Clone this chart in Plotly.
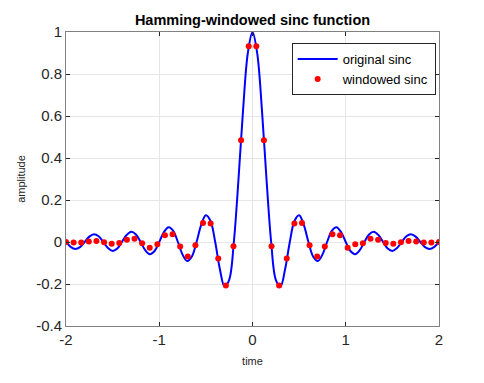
import plotly.graph_objects as go

# continuous (original) sinc curve, sampled every 0.05
t_line = [round(-2 + 0.05 * i, 2) for i in range(81)]
orig_sinc = [0.0, -0.0231, -0.0335, -0.0243, 0.0, 0.0257, 0.0374, 0.0273, 0.0, -0.0290,
             -0.0424, -0.0310, 0.0, 0.0333, 0.0490, 0.0360, 0.0, -0.0391, -0.0579, -0.0429,
             0.0, 0.0474, 0.0707, 0.0530, 0.0, -0.0600, -0.0909, -0.0693, 0.0, 0.0818,
             0.1273, 0.1000, 0.0, -0.1286, -0.2122, -0.1801, 0.0, 0.3001, 0.6366, 0.9003,
             1.0, 0.9003, 0.6366, 0.3001, 0.0, -0.1801, -0.2122, -0.1286, 0.0, 0.1000,
             0.1273, 0.0818, 0.0, -0.0693, -0.0909, -0.0600, 0.0, 0.0530, 0.0707, 0.0474,
             0.0, -0.0429, -0.0579, -0.0391, 0.0, 0.0360, 0.0490, 0.0333, 0.0, -0.0310,
             -0.0424, -0.0290, 0.0, 0.0273, 0.0374, 0.0257, 0.0, -0.0243, -0.0335, -0.0231, 0.0]

# windowed sinc samples (50 points from -2 to 2)
t_samp = [-2.0, -1.9184, -1.8367, -1.7551, -1.6735, -1.5918, -1.5102, -1.4286, -1.3469, -1.2653,
          -1.1837, -1.1020, -1.0204, -0.9388, -0.8571, -0.7755, -0.6939, -0.6122, -0.5306, -0.4490,
          -0.3673, -0.2857, -0.2041, -0.1224, -0.0408, 0.0408, 0.1224, 0.2041, 0.2857, 0.3673,
          0.4490, 0.5306, 0.6122, 0.6939, 0.7755, 0.8571, 0.9388, 1.0204, 1.1020, 1.1837,
          1.2653, 1.3469, 1.4286, 1.5102, 1.5918, 1.6735, 1.7551, 1.8367, 1.9184, 2.0]
win_sinc = [0.0, -0.0027, -0.0018, 0.0027, 0.0048, -0.0009, -0.0087, -0.0051, 0.0106, 0.0152,
            -0.0056, -0.0269, -0.0104, 0.0325, 0.0373, -0.0216, -0.069, -0.016, 0.090, 0.088,
            -0.079, -0.207, -0.020, 0.484, 0.932, 0.932, 0.484, -0.020, -0.207, -0.079,
            0.088, 0.090, -0.016, -0.069, -0.0216, 0.0373, 0.0325, -0.0269, -0.0104, -0.0056,
            0.0152, 0.0106, -0.0051, -0.0087, -0.0009, 0.0048, 0.0027, -0.0018, -0.0027, 0.0]

x_ticks = [-2, -1, 0, 1, 2]
y_ticks = [-0.4, -0.2, 0, 0.2, 0.4, 0.6, 0.8, 1]
y_tick_text = ["-0.4", "-0.2", "0", "0.2", "0.4", "0.6", "0.8", "1"]

FONT = "Arial, Liberation Sans, sans-serif"
AX = "#262626"

fig = go.Figure()
fig.add_trace(go.Scatter(x=t_line, y=orig_sinc, mode="lines", name="original sinc",
                         line=dict(color="#0000ff", width=2, shape="spline", smoothing=1.0)))
fig.add_trace(go.Scatter(x=t_samp, y=win_sinc, mode="markers", name="windowed sinc",
                         marker=dict(color="#ff0000", size=6)))

axis_common = dict(showline=True, linecolor="#808080", linewidth=1, mirror="ticks",
                   ticks="inside", ticklen=4, tickcolor=AX, showgrid=True,
                   gridcolor="#e6e6e6", gridwidth=1, zeroline=False,
                   tickfont=dict(family=FONT, size=15, color=AX))

fig.update_layout(
    width=484, height=383,
    margin=dict(l=56, r=53, t=24, b=65),
    paper_bgcolor="white", plot_bgcolor="white",
    title=dict(text="<b>Hamming-windowed sinc function</b>", x=0.5, xref="paper",
               y=1 - 12 / 383, yanchor="middle",
               font=dict(family=FONT, size=14.5, color="black")),
    xaxis=dict(range=[-2, 2], tickvals=x_ticks, ticktext=[str(v) for v in x_ticks],
               title=dict(text="time", font=dict(family=FONT, size=11, color=AX), standoff=10),
               **axis_common),
    yaxis=dict(range=[-0.4, 1], tickvals=y_ticks, ticktext=y_tick_text,
               title=dict(text="amplitude", font=dict(family=FONT, size=11, color=AX), standoff=8),
               **axis_common),
    legend=dict(x=0.605, y=0.962, xanchor="left", yanchor="top",
                bgcolor="white", bordercolor="#262626", borderwidth=1,
                font=dict(family=FONT, size=13, color="black"),
                itemwidth=40, tracegroupgap=0),
    showlegend=True,
)

fig.write_html("out.html")
